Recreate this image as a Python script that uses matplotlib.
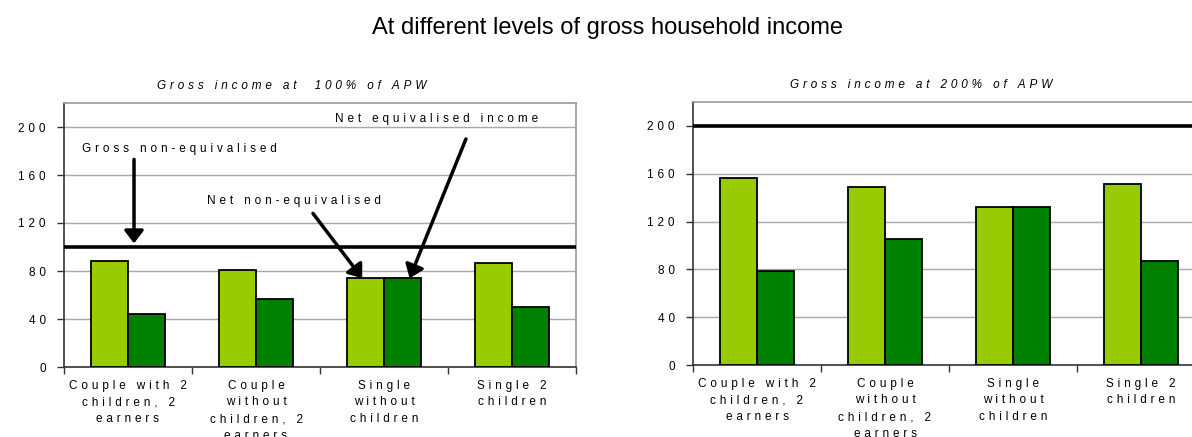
import matplotlib
matplotlib.use("Agg")
import matplotlib.pyplot as plt
import numpy as np

plt.rcParams['font.family'] = ['Liberation Sans', 'DejaVu Sans']

categories = ["Couple with 2\nchildren, 2\nearners",
              "Couple\nwithout\nchildren, 2\nearners",
              "Single\nwithout\nchildren",
              "Single 2\nchildren"]

# Net non-equivalised income (light) and net equivalised income (dark)
net_nonequiv_100 = [88.5, 80.5, 74, 86.5]
net_equiv_100 = [44, 57, 74, 50]
net_nonequiv_200 = [156.5, 148.5, 132.5, 151]
net_equiv_200 = [78.5, 105, 132.5, 87]

gross_100 = 100
gross_200 = 200

panel_titles = ["Gross income at  100% of APW", "Gross income at 200% of APW"]
yticks = [0, 40, 80, 120, 160, 200]

LIGHT = "#99CC00"
DARK = "#008000"
FS = 8.5


def tracked(s):
    """Widen letter spacing by putting a three-per-em space between glyphs."""
    return "\n".join("\u2004".join(line) for line in s.split("\n"))


fig = plt.figure(figsize=(11.92, 4.37), dpi=100)
fig.text(0.51, 0.935, "At different levels of gross household income",
         ha="center", va="center", fontsize=17)

ax1 = fig.add_axes([64 / 1192, 70 / 437, 512 / 1192, 264 / 437])
ax2 = fig.add_axes([693 / 1192, 72 / 437, 512 / 1192, 263 / 437])

x = np.arange(len(categories))
w = 0.289

panels = [(ax1, net_nonequiv_100, net_equiv_100, gross_100, panel_titles[0]),
          (ax2, net_nonequiv_200, net_equiv_200, gross_200, panel_titles[1])]

for ax, light, dark, gross, title in panels:
    ax.set_xlim(-0.5, len(categories) - 0.5)
    ax.set_ylim(0, 220)
    ax.set_yticks(yticks)
    ax.set_yticklabels([tracked(str(v)) for v in yticks], fontsize=FS)
    ax.yaxis.grid(True, color="#a8a8a8", linewidth=1.0)
    ax.set_axisbelow(True)
    ax.bar(x - w / 2, light, width=w, color=LIGHT, edgecolor="black",
           linewidth=1.3, zorder=3)
    ax.bar(x + w / 2, dark, width=w, color=DARK, edgecolor="black",
           linewidth=1.3, zorder=3)
    ax.axhline(gross, color="black", linewidth=2.6, zorder=4)

    # category labels centred, tick marks on category boundaries
    ax.set_xticks(x)
    ax.set_xticklabels([tracked(c) for c in categories], fontsize=FS,
                       linespacing=1.55)
    ax.tick_params(axis="x", which="major", length=0, pad=9)
    ax.set_xticks(np.arange(-0.5, len(categories) + 0.5, 1.0), minor=True)
    ax.tick_params(axis="x", which="minor", length=5, width=1.0,
                   direction="out", color="#333333")
    ax.tick_params(axis="y", length=5, width=1.0, direction="out",
                   color="#333333", pad=8)

    for side in ("top", "right"):
        ax.spines[side].set_color("#999999")
        ax.spines[side].set_linewidth(1.2)
    for side in ("left", "bottom"):
        ax.spines[side].set_color("#333333")
        ax.spines[side].set_linewidth(1.2)

    ax.set_title(tracked(title), fontsize=FS, style="italic", pad=10,
                 x=0.445)

# annotations on the first panel
arrow_kw = dict(arrowstyle="-|>,head_length=0.42,head_width=0.32",
                color="black", lw=2.5, mutation_scale=18,
                shrinkA=0, shrinkB=0)
ax1.text(-0.36, 181.5, tracked("Gross non-equivalised"), fontsize=FS,
         ha="left", va="center")
ax1.annotate("", xy=(0.047, 103), xytext=(0.047, 173), arrowprops=arrow_kw,
             zorder=5)
ax1.text(0.617, 138, tracked("Net non-equivalised"), fontsize=FS,
         ha="left", va="center")
ax1.annotate("", xy=(1.83, 74), xytext=(1.445, 128), arrowprops=arrow_kw,
             zorder=5)
ax1.text(1.617, 207, tracked("Net equivalised income"), fontsize=FS,
         ha="left", va="center")
ax1.annotate("", xy=(2.20, 74), xytext=(2.64, 190), arrowprops=arrow_kw,
             zorder=5)

fig.savefig("out.png", dpi=100)
